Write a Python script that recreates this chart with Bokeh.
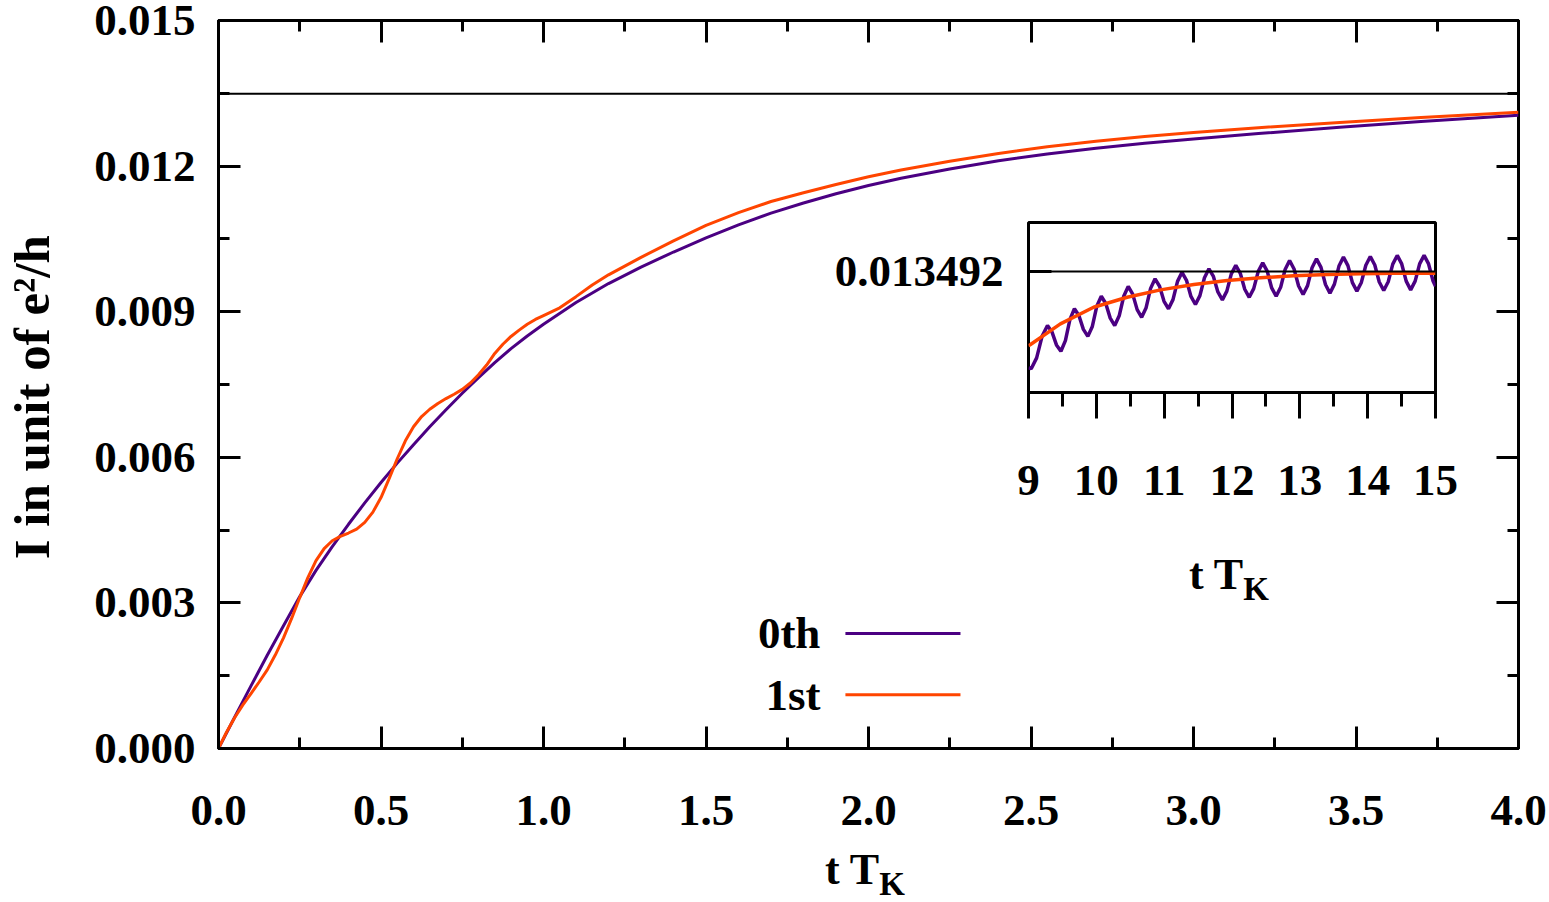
from bokeh.plotting import figure
from bokeh.models import (Span, Label, Range1d, LinearAxis, SingleIntervalTicker,
                          FixedTicker, PrintfTickFormatter, CustomJSTickFormatter, Div)
from bokeh.embed import file_html
from bokeh.resources import INLINE

FONT = "Liberation Serif"
PURPLE = "#4B0082"
ORANGE = "#FF4500"
FS = "45px"

# ---- data: current I(t) in units of e^2/h, time in units of 1/T_K ----
series_names = ["0th", "1st"]
I_steady = 0.013492

t_0th = [0, 0.05, 0.1, 0.15, 0.2, 0.25, 0.3, 0.35, 0.4, 0.45, 0.5, 0.55, 0.6, 0.65,
         0.7, 0.75, 0.8, 0.85, 0.9, 0.95, 1.0, 1.1, 1.2, 1.3, 1.4, 1.5, 1.6, 1.7,
         1.8, 1.9, 2.0, 2.1, 2.25, 2.4, 2.55, 2.7, 2.85, 3.0, 3.2, 3.45, 3.7, 4.0]
I_0th = [0, 0.00065, 0.00129, 0.00192, 0.00253, 0.00313, 0.00367, 0.00416, 0.00462,
         0.00506, 0.00548, 0.00588, 0.00626, 0.00663, 0.00698, 0.00732, 0.00764,
         0.00795, 0.00824, 0.00850, 0.00874, 0.00919, 0.00958, 0.00992, 0.01023,
         0.01052, 0.01079, 0.01103, 0.01124, 0.01143, 0.01160, 0.01175, 0.01194,
         0.01211, 0.01225, 0.01237, 0.01247, 0.01256, 0.01267, 0.01280, 0.01292,
         0.01305]

t_1st = [0, 0.025, 0.05, 0.075, 0.1, 0.125, 0.15, 0.175, 0.2, 0.225, 0.25, 0.275,
         0.3, 0.325, 0.35, 0.375, 0.4, 0.425, 0.45, 0.475, 0.5, 0.525, 0.55, 0.575,
         0.6, 0.625, 0.65, 0.675, 0.7, 0.725, 0.75, 0.775, 0.8, 0.825, 0.85, 0.875,
         0.9, 0.925, 0.95, 0.975, 1.0, 1.05, 1.1, 1.15, 1.2, 1.25, 1.3, 1.4, 1.5,
         1.6, 1.7, 1.8, 1.9, 2.0, 2.1, 2.25, 2.4, 2.55, 2.7, 2.85, 3.0, 3.2, 3.45,
         3.7, 4.0]
I_1st = [0, 0.00034, 0.00064, 0.00090, 0.00113, 0.00137, 0.00162, 0.00193, 0.00228,
         0.00268, 0.00311, 0.00352, 0.00387, 0.00412, 0.00428, 0.00437, 0.00444,
         0.00452, 0.00466, 0.00487, 0.00517, 0.00556, 0.00597, 0.00634, 0.00663,
         0.00684, 0.00699, 0.00711, 0.00721, 0.00730, 0.00740, 0.00753, 0.00770,
         0.00790, 0.00814, 0.00833, 0.00849, 0.00862, 0.00874, 0.00884, 0.00892,
         0.00908, 0.00931, 0.00955, 0.00976, 0.00994, 0.01012, 0.01046, 0.01078,
         0.01104, 0.01127, 0.01145, 0.01162, 0.01178, 0.01192, 0.01210, 0.01226,
         0.01240, 0.01251, 0.01261, 0.01269, 0.01279, 0.01290, 0.01300, 0.01311]

# long-time window (inset)
t_0th_long = [9.00, 9.04, 9.12, 9.20, 9.28,
              9.346, 9.412, 9.478, 9.544, 9.611, 9.677, 9.743, 9.809, 9.875,
              9.941, 10.007, 10.073, 10.139, 10.205, 10.271, 10.337, 10.404, 10.47,
              10.536, 10.602, 10.668, 10.734, 10.80, 10.866, 10.932, 10.998, 11.064,
              11.13, 11.197, 11.263, 11.329, 11.395, 11.461, 11.527, 11.594, 11.66,
              11.726, 11.792, 11.858, 11.924, 11.99, 12.056, 12.122, 12.188, 12.254,
              12.32, 12.387, 12.453, 12.519, 12.585, 12.651, 12.717, 12.783, 12.849,
              12.915, 12.982, 13.048, 13.114, 13.18, 13.246, 13.312, 13.378, 13.444,
              13.51, 13.577, 13.643, 13.709, 13.775, 13.841, 13.907, 13.973, 14.039,
              14.105, 14.171, 14.237, 14.303, 14.37, 14.436, 14.502, 14.568, 14.634,
              14.70, 14.766, 14.832, 14.898, 14.964, 15.0]
I_0th_long = [0.0134466, 0.0134462, 0.0134513, 0.0134614, 0.0134665,
              0.0134635, 0.0134574, 0.0134544, 0.0134594, 0.0134694, 0.0134744,
              0.0134712, 0.0134647, 0.0134614, 0.0134661, 0.0134756, 0.0134803,
              0.0134769, 0.0134700, 0.0134665, 0.0134711, 0.0134803, 0.0134849,
              0.0134813, 0.0134740, 0.0134704, 0.0134749, 0.0134840, 0.0134885,
              0.0134850, 0.0134779, 0.0134744, 0.0134787, 0.0134873, 0.0134916,
              0.0134878, 0.0134802, 0.0134764, 0.0134806, 0.0134890, 0.0134932,
              0.0134896, 0.0134823, 0.0134786, 0.0134827, 0.0134908, 0.0134948,
              0.0134911, 0.0134836, 0.0134798, 0.0134839, 0.0134920, 0.0134960,
              0.0134921, 0.0134842, 0.0134803, 0.0134845, 0.0134929, 0.0134971,
              0.0134931, 0.0134851, 0.0134811, 0.0134853, 0.0134937, 0.0134979,
              0.0134939, 0.0134858, 0.0134817, 0.0134860, 0.0134945, 0.0134987,
              0.0134947, 0.0134867, 0.0134827, 0.0134868, 0.0134949, 0.0134990,
              0.0134950, 0.0134870, 0.0134830, 0.0134871, 0.0134954, 0.0134995,
              0.0134955, 0.0134874, 0.0134833, 0.0134874, 0.0134955, 0.0134995,
              0.0134955, 0.0134875, 0.0134850]

t_1st_long = [9.0, 9.03, 9.47, 9.96, 10.455, 10.946, 11.437, 11.929, 12.42, 12.911,
              13.404, 13.895, 14.386, 15.0]
I_1st_long = [0.0134570, 0.0134576, 0.0134673, 0.0134751, 0.0134798, 0.0134833,
              0.0134858, 0.0134877, 0.0134890, 0.0134899, 0.0134905, 0.0134909,
              0.0134911, 0.0134911]

# ---- main panel ----
p = figure(width=1549, height=902, x_range=Range1d(0, 4), y_range=Range1d(0, 0.015),
           output_backend="svg", toolbar_location=None,
           min_border_left=218, min_border_right=31, min_border_top=20,
           min_border_bottom=154, outline_line_color="black", outline_line_width=3)
p.grid.visible = False

xt = SingleIntervalTicker(interval=0.5, num_minor_ticks=2)
yt = SingleIntervalTicker(interval=0.003, num_minor_ticks=2)
p.xaxis.ticker = xt
p.yaxis.ticker = yt
p.xaxis.formatter = PrintfTickFormatter(format="%.1f")
p.yaxis.formatter = PrintfTickFormatter(format="%.3f")


def style_axis(ax, standoff):
    ax.axis_line_color = None
    ax.major_tick_in = 22
    ax.major_tick_out = 0
    ax.minor_tick_in = 11
    ax.minor_tick_out = 0
    ax.major_tick_line_width = 3
    ax.minor_tick_line_width = 3
    ax.major_tick_line_color = "black"
    ax.minor_tick_line_color = "black"
    ax.major_label_text_font = FONT
    ax.major_label_text_font_style = "bold"
    ax.major_label_text_font_size = FS
    ax.major_label_text_color = "black"
    ax.major_label_standoff = standoff


style_axis(p.xaxis[0], 47)
style_axis(p.yaxis[0], 23)

p.yaxis.axis_label = "I in unit of e\u00b2/h\u00a0\u00a0"
p.yaxis.axis_label_text_font = FONT
p.yaxis.axis_label_text_font_style = "bold"
p.yaxis.axis_label_text_font_size = "51px"
p.yaxis.axis_label_text_color = "black"
p.yaxis.axis_label_standoff = 31

blank = CustomJSTickFormatter(code="return ''")
ax_r = LinearAxis(ticker=yt, formatter=blank)
ax_t = LinearAxis(ticker=xt, formatter=blank)
style_axis(ax_r, 0)
style_axis(ax_t, 0)
p.add_layout(ax_r, "right")
p.add_layout(ax_t, "above")

p.add_layout(Span(location=I_steady, dimension="width", line_color="black", line_width=2))

p.line(t_0th, I_0th, line_color=PURPLE, line_width=3)
p.line(t_1st, I_1st, line_color=ORANGE, line_width=3)

# legend: label on the left, sample line on the right
leg_y = [0.00237, 0.00111]
for name, color, yy in zip(series_names, [PURPLE, ORANGE], leg_y):
    p.add_layout(Label(x=1.852, y=yy, text=name, text_font=FONT, text_font_style="bold",
                       text_font_size=FS, text_color="black", text_align="right",
                       text_baseline="middle"))
    p.segment(x0=[1.929], y0=[yy], x1=[2.283], y1=[yy], line_color=color, line_width=3)

# ---- inset: long-time behaviour ----
ins = figure(width=680, height=420, x_range=Range1d(9, 15),
             y_range=Range1d(0.013435, 0.013515),
             output_backend="svg", toolbar_location=None,
             min_border_left=228, min_border_right=45, min_border_top=22,
             min_border_bottom=228, background_fill_color=None, border_fill_color=None,
             outline_line_color="black", outline_line_width=3)
ins.grid.visible = False
ins.xaxis.ticker = SingleIntervalTicker(interval=1, num_minor_ticks=2)
ins.yaxis.ticker = FixedTicker(ticks=[I_steady], minor_ticks=[])
ins.yaxis.formatter = PrintfTickFormatter(format="%.6f")
style_axis(ins.xaxis[0], 47)
style_axis(ins.yaxis[0], 25)
ins.xaxis.major_tick_in = 0
ins.xaxis.major_tick_out = 26
ins.xaxis.minor_tick_in = 0
ins.xaxis.minor_tick_out = 14
ins.yaxis.major_tick_in = 23

ins.add_layout(Span(location=I_steady, dimension="width", line_color="black", line_width=2))
ins.line(t_0th_long, I_0th_long, line_color=PURPLE, line_width=3.5)
ins.line(t_1st_long, I_1st_long, line_color=ORANGE, line_width=3.5)
ins.styles = {"position": "absolute", "left": "800px", "top": "200px"}


# axis titles with a subscript K
def time_title(left, top):
    html = ("<span style=\"font-family:'Liberation Serif';font-weight:bold;"
            "font-size:44px;color:black;white-space:nowrap\">t T"
            "<span style=\"font-size:33px;position:relative;top:11px\">K</span></span>")
    return Div(text=html, width=130, height=60,
               styles={"position": "absolute", "left": f"{left}px", "top": f"{top}px",
                       "line-height": "50px", "margin": "0", "padding": "0"})


x_title_main = time_title(825, 845)
x_title_inset = time_title(1189, 550)

open("out.html", "w").write(file_html([p, ins, x_title_main, x_title_inset], INLINE))
